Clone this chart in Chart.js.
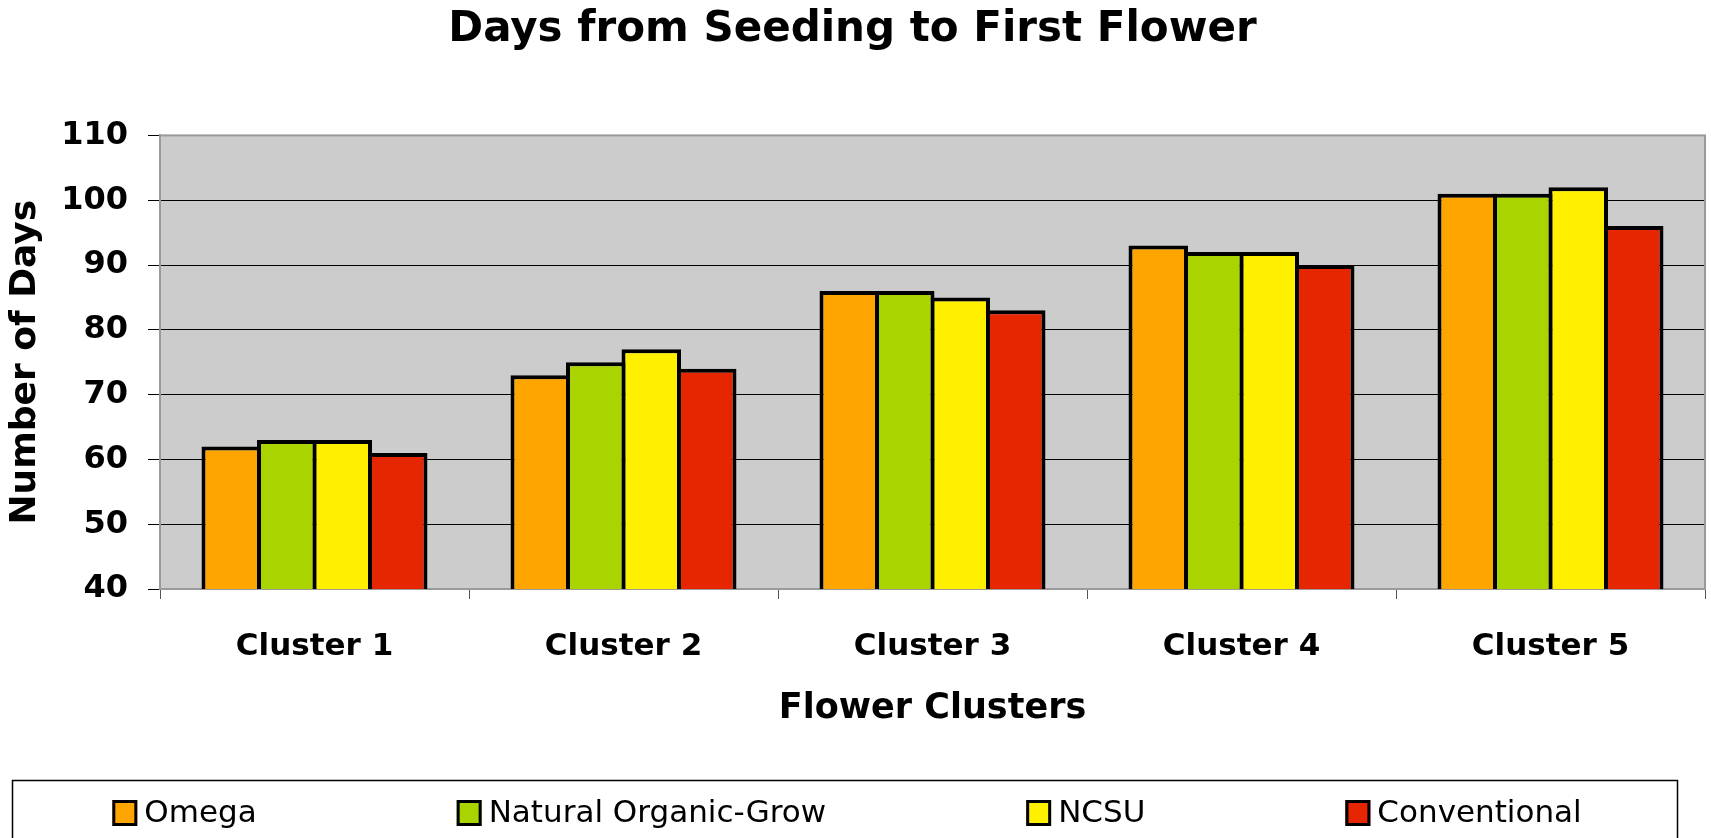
<!DOCTYPE html>
<html>
<head>
<meta charset="utf-8">
<title>Days from Seeding to First Flower</title>
<script src="https://cdn.jsdelivr.net/npm/chart.js@4"></script>
<style>
  html, body { margin: 0; padding: 0; background: #fff; }
</style>
</head>
<body>
<canvas id="flowerChart" width="1711" height="838"></canvas>
<script>
// data
const clusters = ['Cluster 1', 'Cluster 2', 'Cluster 3', 'Cluster 4', 'Cluster 5'];
const omega = [62, 73, 86, 93, 101];
const naturalOrganic = [63, 75, 86, 92, 101];
const ncsu = [63, 77, 85, 92, 102];
const conventional = [61, 74, 83, 90, 96];
const seriesNames = ['Omega', 'Natural Organic-Grow', 'NCSU', 'Conventional'];
const seriesColors = ['#FFA500', '#AAD400', '#FFF000', '#E62600'];
const yTicks = [40, 50, 60, 70, 80, 90, 100, 110];

const FONT = '"DejaVu Sans", Verdana, sans-serif';

// grey plot area + frame
const plotBackground = {
    id: 'plotBackground',
    beforeDraw(chart) {
        const { ctx, chartArea: a } = chart;
        ctx.save();
        ctx.fillStyle = '#CCCCCC';
        ctx.fillRect(a.left, a.top, a.right - a.left, a.bottom - a.top);
        ctx.restore();
    },
    beforeDatasetsDraw(chart) {
        const { ctx, chartArea: a } = chart;
        ctx.save();
        ctx.strokeStyle = '#9A9A9A';
        ctx.lineWidth = 2;
        ctx.strokeRect(a.left, a.top, a.right - a.left, a.bottom - a.top);
        ctx.restore();
    }
};

// legend in a box at the bottom, like the Excel one
const boxLegend = {
    id: 'boxLegend',
    afterDraw(chart) {
        const ctx = chart.ctx;
        ctx.save();
        ctx.strokeStyle = '#000';
        ctx.lineWidth = 1.5;
        ctx.strokeRect(12.5, 780.5, 1665, 80);

        ctx.font = '31px ' + FONT;
        const items = chart.data.datasets.map(ds => ({
            text: ds.label,
            color: ds.backgroundColor,
            w: 25 + 7 + ctx.measureText(ds.label).width
        }));
        const gap = 200;
        const total = items.reduce((s, it) => s + it.w, 0) + gap * (items.length - 1);
        let x = 847 - total / 2;
        const cy = 813;
        items.forEach(it => {
            ctx.fillStyle = it.color;
            ctx.fillRect(x, cy - 13, 25, 26);
            ctx.lineWidth = 3;
            ctx.strokeStyle = '#000';
            ctx.strokeRect(x + 1.5, cy - 11.5, 22, 23);
            ctx.fillStyle = '#000';
            ctx.textBaseline = 'middle';
            ctx.textAlign = 'left';
            ctx.fillText(it.text, x + 32, cy + 1);
            x += it.w + gap;
        });
        ctx.restore();
    }
};

const seriesData = [omega, naturalOrganic, ncsu, conventional];

const ctx = document.getElementById('flowerChart').getContext('2d');
new Chart(ctx, {
    type: 'bar',
    data: {
        labels: clusters,
        datasets: seriesNames.map((name, i) => ({
            label: name,
            data: seriesData[i],
            backgroundColor: seriesColors[i],
            borderColor: '#000',
            borderWidth: 4,
            borderSkipped: false,
            categoryPercentage: 0.7184,
            barPercentage: 1.072
        }))
    },
    options: {
        responsive: false,
        animation: false,
        layout: { padding: { left: 0, right: 6, top: 0, bottom: 78 } },
        plugins: {
            legend: { display: false },
            tooltip: { enabled: false },
            title: {
                display: true,
                text: 'Days from Seeding to First Flower',
                color: '#000',
                font: { family: FONT, size: 42, weight: 'bold' },
                padding: { top: 5, bottom: 80 }
            }
        },
        scales: {
            x: {
                grid: {
                    display: true,
                    drawOnChartArea: false,
                    offset: true,
                    tickLength: 10,
                    color: '#555'
                },
                border: { display: true, color: '#9A9A9A', width: 2 },
                ticks: {
                    color: '#000',
                    padding: 29,
                    font: { family: FONT, size: 31, weight: 'bold' }
                },
                title: {
                    display: true,
                    text: 'Flower Clusters',
                    color: '#000',
                    font: { family: FONT, size: 35, weight: 'bold' },
                    padding: { top: 0, bottom: 30 }
                },
                afterFit(scale) { scale.height = 171; }
            },
            y: {
                min: yTicks[0],
                max: yTicks[yTicks.length - 1],
                grid: {
                    color: '#000',
                    lineWidth: 1,
                    tickLength: 12
                },
                border: { display: true, color: '#9A9A9A', width: 2 },
                ticks: {
                    stepSize: yTicks[1] - yTicks[0],
                    color: '#000',
                    padding: 20,
                    font: { family: FONT, size: 32, weight: 'bold' }
                },
                title: {
                    display: true,
                    text: 'Number of Days',
                    color: '#000',
                    font: { family: FONT, size: 36, weight: 'bold' },
                    padding: { top: 4, bottom: 0 }
                },
                afterFit(scale) { scale.width = 160; }
            }
        }
    },
    plugins: [plotBackground, boxLegend]
});
</script>
</body>
</html>
